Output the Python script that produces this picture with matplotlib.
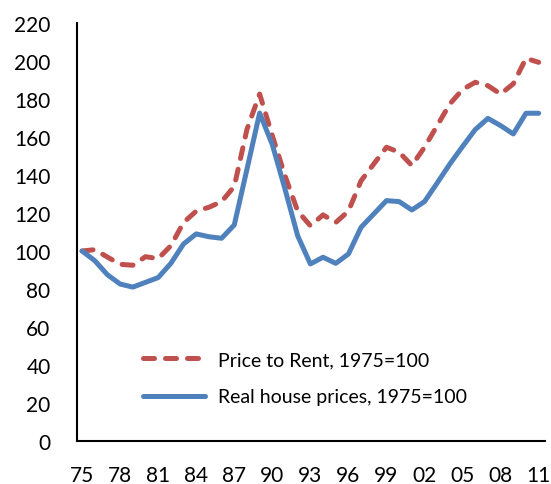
import matplotlib
matplotlib.use("Agg")
import matplotlib.pyplot as plt

years = list(range(1975, 2012))
price_to_rent = [100, 100.7, 96.8, 93, 92.5, 97, 96, 102.8, 115, 121, 123, 126, 134, 164, 182.6,
                 160.7, 139.6, 121, 113.3, 119, 115, 121, 137, 145.8, 154.6, 152, 145, 154.6,
                 166, 177.4, 185, 188.8, 187, 182.6, 188, 201.4, 199.3]
real_prices = [100, 94.9, 87.5, 82.6, 81, 83.5, 86, 93.5, 103.7, 109, 107.5, 106.7, 113.7, 143,
               172.6, 156, 132.6, 108, 93.2, 96.7, 93.5, 98.4, 112.5, 119.5, 126.5, 126, 121.6,
               126, 135.8, 145.8, 155, 163.9, 169.8, 166, 161.6, 172.5, 172.5]
xtick_years = list(range(1975, 2012, 3))
xtick_labels = [f"{y % 100:02d}" for y in xtick_years]
yticks = list(range(0, 221, 20))

plt.rcParams['font.family'] = ['Lato', 'DejaVu Sans']

fig = plt.figure(figsize=(5.51, 4.85), dpi=100)
ax = fig.add_axes([77/551, 1-442/485, 468/551, (442-24)/485])

ax.plot(years, price_to_rent, color='#C0504D', lw=3.6, linestyle=(0, (2.2, 2.2)),
        dash_capstyle='round', label='Price to Rent, 1975=100')
ax.plot(years, real_prices, color='#4F81BD', lw=3.6, solid_capstyle='round',
        label='Real house prices, 1975=100')

ax.set_xlim(1974.6, 2011.5)
ax.set_ylim(0, 220)
ax.set_xticks(xtick_years)
ax.set_xticklabels(xtick_labels)
ax.set_yticks(yticks)
ax.tick_params(axis='both', length=0, labelsize=15)
ax.tick_params(axis='y', pad=19)
ax.tick_params(axis='x', pad=17)
for s in ['top', 'right']:
    ax.spines[s].set_visible(False)
for s in ['left', 'bottom']:
    ax.spines[s].set_linewidth(1.5)
    ax.spines[s].set_color('black')

ax.legend(loc='upper left', bbox_to_anchor=(143/551, 1-352/485), bbox_transform=fig.transFigure,
          frameon=False, fontsize=14, handlelength=3.2, handletextpad=0.67,
          labelspacing=1.05, borderpad=0, borderaxespad=0)

fig.savefig('out.png', dpi=100)
